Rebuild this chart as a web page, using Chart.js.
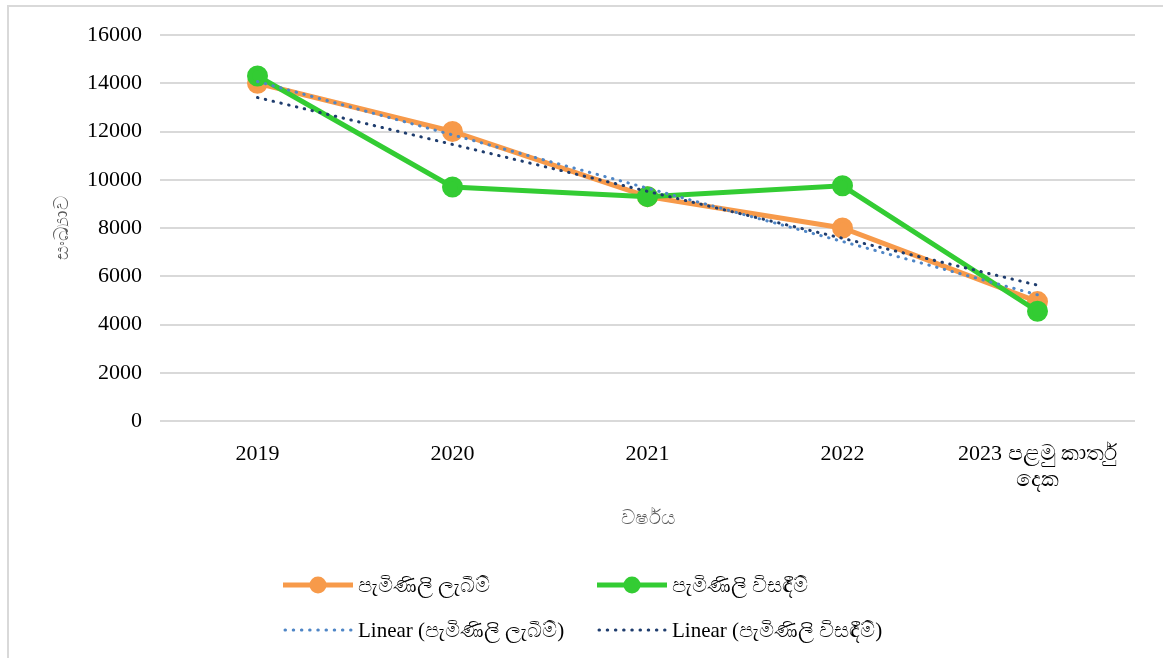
<!DOCTYPE html>
<html>
<head>
<meta charset="utf-8">
<script src="https://cdn.jsdelivr.net/npm/chart.js@4"></script>
<style>
  html, body { margin: 0; padding: 0; background: #fff; }
  #wrap { position: relative; width: 1163px; height: 658px; overflow: hidden; }
  #frame { position: absolute; left: 7px; top: 5px; width: 1200px; height: 700px;
           border-left: 2px solid #d9d9d9; border-top: 2px solid #d9d9d9; }
  #c { position: absolute; left: 0; top: 0; }
  .lg { position: absolute; display: flex; align-items: center; height: 30px;
        font-family: "Liberation Serif", "Times New Roman", serif; font-size: 21px; color: #000; white-space: nowrap; }
  .lg svg { margin-right: 4px; }
</style>
</head>
<body>
<div id="wrap">
  <div id="frame"></div>
  <canvas id="c" width="1163" height="658"></canvas>
  <div id="legend"></div>
</div>
<script>
'use strict';

// ── Data ──────────────────────────────────────────────
const years     = ['2019', '2020', '2021', '2022', ['2023 පළමු කාර්තු', 'දෙක']];
const received  = [14000, 12000, 9300, 8000, 4950];   // පැමිණිලි ලැබීම්
const resolved  = [14300, 9700, 9300, 9750, 4550];   // පැමිණිලි විසඳීම්
const trendRecv = [14070, 11860, 9650, 7440, 5230];  // Linear (ලැබීම්)
const trendRes  = [13410, 11465, 9520, 7575, 5630];  // Linear (විසඳීම්)

const yTicks = { min: 0, max: 16000, step: 2000 };

const ORANGE = '#F79A4A';
const GREEN  = '#33CC33';
const LBLUE  = '#4F86C6';
const DBLUE  = '#1F3D6E';

const labelRecv = 'පැමිණිලි ලැබීම්';
const labelRes  = 'පැමිණිලි විසඳීම්';

const serif = '"Liberation Serif", "Times New Roman", serif';

// ── Chart ─────────────────────────────────────────────
new Chart(document.getElementById('c').getContext('2d'), {
  type: 'line',
  data: {
    labels: years,
    datasets: [
      { label: labelRecv, data: received, borderColor: ORANGE, backgroundColor: ORANGE,
        borderWidth: 5, pointRadius: 8, pointHoverRadius: 8, order: 3 },
      { label: labelRes, data: resolved, borderColor: GREEN, backgroundColor: GREEN,
        borderWidth: 5, pointRadius: 8, pointHoverRadius: 8, order: 2 },
      { label: 'Linear (' + labelRecv + ')', data: trendRecv, borderColor: LBLUE,
        borderWidth: 3, borderDash: [0.5, 7.5], borderCapStyle: 'round', pointRadius: 0, order: 1 },
      { label: 'Linear (' + labelRes + ')', data: trendRes, borderColor: DBLUE,
        borderWidth: 3, borderDash: [0.5, 7.5], borderCapStyle: 'round', pointRadius: 0, order: 0 }
    ]
  },
  options: {
    responsive: false,
    animation: false,
    layout: { padding: { top: 35, right: 28, left: 0, bottom: 117 } },
    plugins: { legend: { display: false }, tooltip: { enabled: false } },
    scales: {
      x: {
        offset: true,
        grid: { display: false },
        border: { display: false },
        ticks: { color: '#000', font: { family: serif, size: 22 }, padding: 12, maxRotation: 0 },
        title: { display: true, text: 'වර්ෂය', color: '#595959',
                 font: { size: 20 }, padding: { bottom: 11 } },
        afterFit: s => { s.height = 120; }
      },
      y: {
        min: yTicks.min, max: yTicks.max,
        grid: { color: '#d9d9d9', lineWidth: 2, drawTicks: false },
        border: { display: false },
        ticks: { stepSize: yTicks.step, color: '#000', font: { family: serif, size: 22 },
                 padding: 18, callback: v => v },
        title: { display: true, text: 'සංඛ්‍යාව', color: '#595959',
                 font: { size: 20 }, padding: { top: 50 } },
        afterFit: s => { s.width = 160; }
      }
    }
  }
});

// ── Legend ────────────────────────────────────────────
const solidSample = c =>
  `<svg width="72" height="20"><line x1="1" y1="10" x2="71" y2="10" stroke="${c}" stroke-width="5"/>` +
  `<circle cx="36" cy="10" r="8.5" fill="${c}"/></svg>`;
const dotSample = c =>
  `<svg width="72" height="20"><line x1="3" y1="10" x2="69" y2="10" stroke="${c}" stroke-width="3"` +
  ` stroke-linecap="round" stroke-dasharray="0.5 7.7"/></svg>`;

document.getElementById('legend').innerHTML = [
  { x: 282, y: 570, svg: solidSample(ORANGE), text: labelRecv },
  { x: 596, y: 570, svg: solidSample(GREEN),  text: labelRes },
  { x: 282, y: 615, svg: dotSample(LBLUE),    text: 'Linear (' + labelRecv + ')' },
  { x: 596, y: 615, svg: dotSample(DBLUE),    text: 'Linear (' + labelRes + ')' }
].map(it => `<div class="lg" style="left:${it.x}px;top:${it.y}px">${it.svg}<span>${it.text}</span></div>`).join('');
</script>
</body>
</html>
